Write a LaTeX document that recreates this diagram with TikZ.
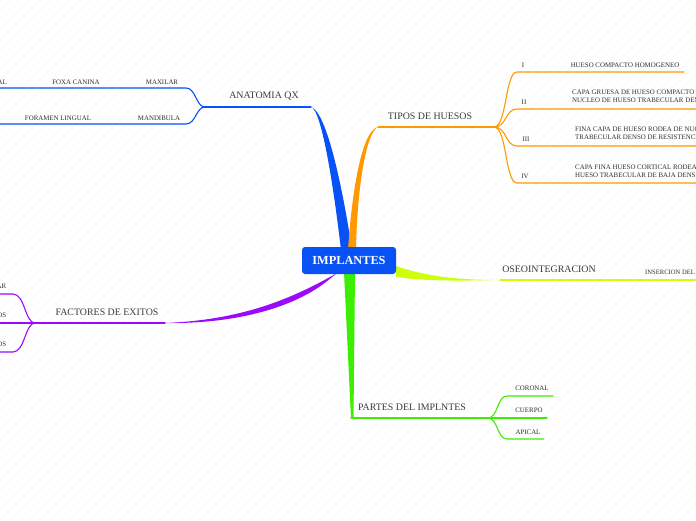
\documentclass[tikz,border=0pt]{standalone}
\usepackage{fontspec}
\setmainfont{Liberation Serif}
\definecolor{cblue}{RGB}{8,82,245}
\definecolor{corange}{RGB}{255,153,0}
\definecolor{cpurple}{RGB}{155,10,250}
\definecolor{cyellow}{RGB}{205,255,10}
\definecolor{cgreen}{RGB}{60,238,0}
\definecolor{ctext}{RGB}{60,60,60}
\tikzset{
  mainlabel/.style={inner sep=0pt, text=ctext, font=\fontsize{9.9}{10}\selectfont},
  sublabel/.style={inner sep=0pt, text=ctext!80!black, font=\fontsize{6.9}{8.2}\selectfont},
  thinline/.style={line width=1.1pt, line cap=round},
  bgline/.style={line width=0.3pt, black!5}
}
\begin{document}
\begin{tikzpicture}[x=1pt,y=-1pt]
\useasboundingbox (0,0) rectangle (696,520);
\clip (0,0) rectangle (696,520);
\fill[white] (0,0) rectangle (696,520);
\foreach \i in {-520,-510,...,700} { \draw[bgline] (\i,520) -- (\i+520,0); }

% ---------- coordinates
\coordinate (bt) at (311,107);
\coordinate (be) at (205,107);
\coordinate (ot) at (378,127);
\coordinate (oe) at (494,127);
\coordinate (pt) at (165,323);
\coordinate (pe) at (35,323);
\coordinate (yt) at (500,280);
\coordinate (ye) at (696,280);
\coordinate (gt) at (351,418);
\coordinate (ge) at (488,418);

% ---------- ANATOMIA QX (blue)
\fill[cblue] (341,250) .. controls (334,190) and (322,110) .. (bt)
   .. controls (327,112) and (343,190) .. (352,250) -- cycle;
\draw[cblue, thinline] (bt) -- (be);
\coordinate (b1) at (186,88);
\coordinate (b2) at (186,124);
\draw[cblue, thinline] (be) .. controls (196,107) and (196,88) .. (b1) -- (-5,88);
\draw[cblue, thinline] (be) .. controls (196,107) and (196,124) .. (b2) -- (-5,124);
\node[mainlabel] (anat) at (264,96) {ANATOMIA QX};
\node[sublabel] (maxi) at (162,82) {MAXILAR};
\node[sublabel] (foxa) at (76,82) {FOXA CANINA};
\node[sublabel, anchor=east] (nasal) at (7,82) {PISO NASAL};
\node[sublabel] (mand) at (159,118) {MANDIBULA};
\node[sublabel] (fora) at (58,118) {FORAMEN LINGUAL};

% ---------- TIPOS DE HUESOS (orange)
\fill[corange] (348,250) .. controls (352,190) and (362,130) .. (ot)
   .. controls (366,132) and (357,190) .. (356,250) -- cycle;
\draw[corange, thinline] (ot) -- (oe);
\node[mainlabel] (tipos) at (430,116) {TIPOS DE HUESOS};
\foreach \y/\e [count=\k] in {72/684,109/700,146/700,183/700} {
  \coordinate (o\k) at (517,\y);
  \draw[corange, thinline] (oe) .. controls (507,127) and (505,\y) .. (o\k) -- (\e,\y);
}
\node[sublabel] (t1) at (523,65) {I};
\node[sublabel] (t1t) at (625,65) {HUESO COMPACTO HOMOGENEO};
\node[sublabel] (t2) at (524,102) {II};
\node[sublabel, anchor=north west, align=left] (t2t) at (572,89.5) {CAPA GRUESA DE HUESO COMPACTO\\NUCLEO DE HUESO TRABECULAR DENSO};
\node[sublabel] (t3) at (526,139) {III};
\node[sublabel, anchor=north west, align=left] (t3t) at (575,126.5) {FINA CAPA DE HUESO RODEA DE NUCLEO\\TRABECULAR DENSO DE RESISTENCIA};
\node[sublabel] (t4) at (525,176) {IV};
\node[sublabel, anchor=north west, align=left] (t4t) at (575,164.5) {CAPA FINA HUESO CORTICAL RODEA\\HUESO TRABECULAR DE BAJA DENSIDAD};

% ---------- FACTORES DE EXITOS (purple)
\fill[cpurple] (337,273) .. controls (290,300) and (240,320) .. (pt)
   .. controls (240,324) and (295,306) .. (326,282) -- cycle;
\draw[cpurple, thinline] (pt) -- (pe);
\node[mainlabel] (fact) at (107,312) {FACTORES DE EXITOS};
\coordinate (p1) at (13,294);
\coordinate (p3) at (13,352);
\draw[cpurple, thinline] (pe) .. controls (25,323) and (25,294) .. (p1) -- (-5,294);
\draw[cpurple, thinline] (pe) -- (-5,323);
\draw[cpurple, thinline] (pe) .. controls (25,323) and (25,352) .. (p3) -- (-5,352);
\node[sublabel, anchor=east] (f1) at (6.5,286) {HUESO ALVEOLAR};
\node[sublabel, anchor=east] (f2) at (6.5,315) {BIOMATERIALES ADECUADOS};
\node[sublabel, anchor=east] (f3) at (6.5,344) {TEJIDOS SANOS};

% ---------- OSEOINTEGRACION (yellow-green)
\fill[cyellow] (396,266) .. controls (425,276) and (455,280) .. (yt)
   .. controls (455,281) and (425,281) .. (396,277) -- cycle;
\draw[cyellow, thinline] (yt) -- (ye);
\node[mainlabel] (oseo) at (549,269) {OSEOINTEGRACION};
\node[sublabel, anchor=west, font=\fontsize{6.6}{7}\selectfont] (ins) at (645,272) {INSERCION DEL IMPLANTE};

% ---------- PARTES DEL IMPLNTES (green)
\fill[cgreen] (344,272) -- (gt) -- (353.5,418) -- (355,272) -- cycle;
\draw[cgreen, thinline] (gt) -- (ge);
\node[mainlabel] (partes) at (412,407) {PARTES DEL IMPLNTES};
\coordinate (g1) at (507,396);
\coordinate (g3) at (507,439);
\draw[cgreen, thinline] (ge) .. controls (498,418) and (497,396) .. (g1) -- (553,396);
\draw[cgreen, thinline] (ge) -- (547,418);
\draw[cgreen, thinline] (ge) .. controls (498,418) and (497,439) .. (g3) -- (544,439);
\node[sublabel] (cor) at (532,388) {CORONAL};
\node[sublabel] (cue) at (529,410) {CUERPO};
\node[sublabel] (api) at (528,432) {APICAL};

% ---------- central node
\node[fill=cblue, rounded corners=3pt, minimum width=94pt, minimum height=27pt,
      inner sep=0pt, text=white, font=\bfseries\fontsize{12.3}{14}\selectfont] (c) at (349,260.5) {IMPLANTES};
\end{tikzpicture}
\end{document}
